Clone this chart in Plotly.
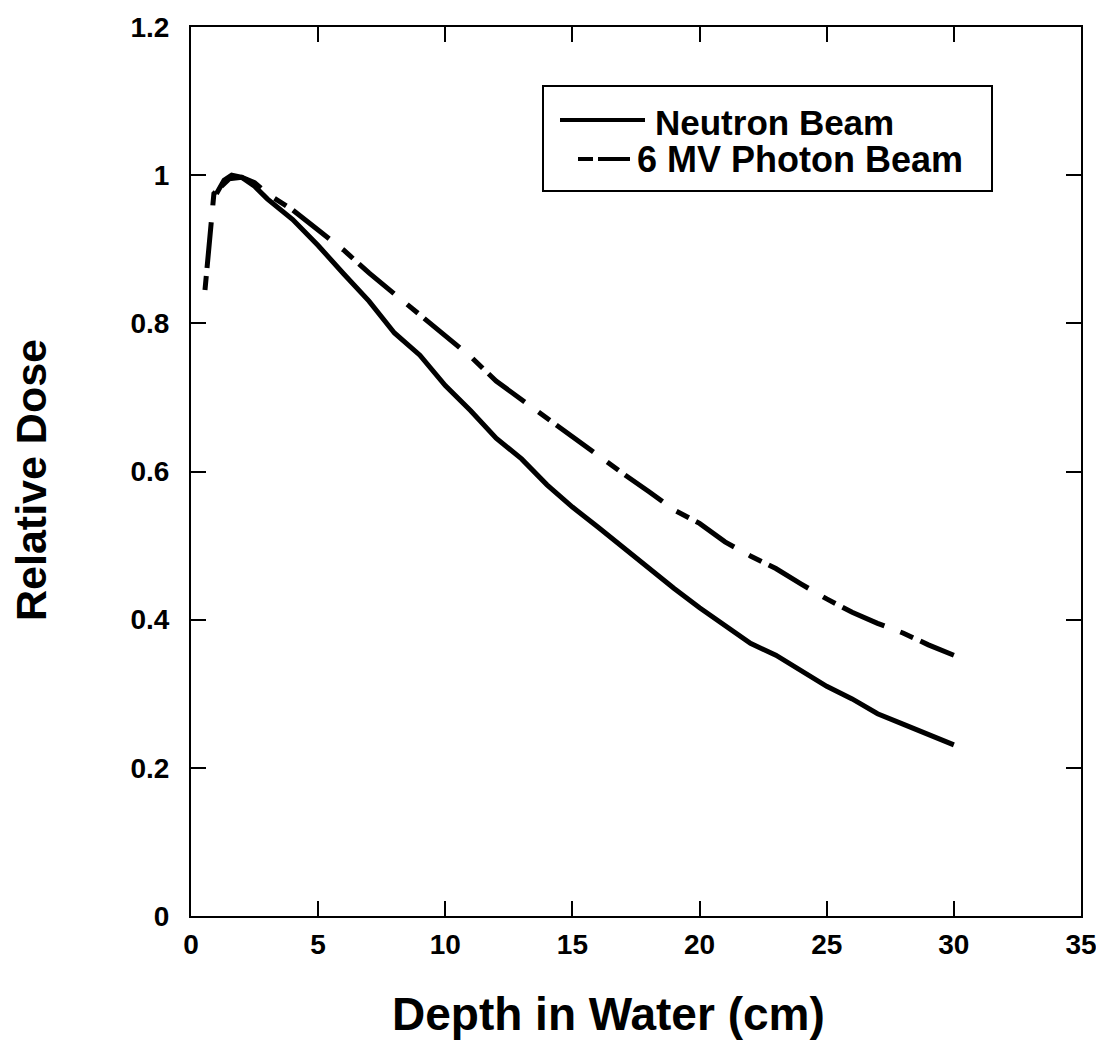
import plotly.graph_objects as go

# ---- data ----
neutron_depth = [1.0, 1.3, 1.6, 2.0, 2.5, 3, 4, 5, 6, 7, 8, 9, 10, 11, 12, 13, 14, 15,
                 16, 17, 18, 19, 20, 21, 22, 23, 24, 25, 26, 27, 28, 29, 30]
neutron_dose = [0.975, 0.993, 1.0, 0.997, 0.985, 0.968, 0.94, 0.905, 0.867, 0.83, 0.787,
                0.757, 0.716, 0.682, 0.645, 0.617, 0.582, 0.552, 0.525, 0.497, 0.469,
                0.442, 0.416, 0.393, 0.368, 0.352, 0.33, 0.31, 0.293, 0.273, 0.259,
                0.245, 0.231]

photon_depth = [0.55, 0.9, 1.2, 1.5, 2.0, 2.5, 3, 3.5, 4, 5, 6, 7, 8, 9, 10, 11, 12, 13,
                14, 15, 16, 17, 18, 19, 20, 21, 22, 23, 24, 25, 26, 27, 28, 29, 30]
photon_dose = [0.845, 0.975, 0.985, 0.995, 0.997, 0.99, 0.975, 0.964, 0.953, 0.926,
               0.899, 0.868, 0.84, 0.813, 0.785, 0.755, 0.722, 0.697, 0.672, 0.645,
               0.622, 0.597, 0.573, 0.548, 0.53, 0.505, 0.486, 0.469, 0.448, 0.428,
               0.41, 0.395, 0.382, 0.366, 0.352]

x_ticks = [0, 5, 10, 15, 20, 25, 30, 35]
y_ticks = [0, 0.2, 0.4, 0.6, 0.8, 1.0, 1.2]
y_tick_labels = ["0", "0.2", "0.4", "0.6", "0.8", "1", "1.2"]

series_names = ["Neutron Beam", "6 MV Photon Beam"]

FONT = "Arial, 'Liberation Sans', Helvetica, sans-serif"
PHOTON_DASH = "14px,8px,46px,17px"

fig = go.Figure()
fig.add_trace(go.Scatter(x=neutron_depth, y=neutron_dose, mode="lines",
                         name=series_names[0],
                         line=dict(color="black", width=5)))
fig.add_trace(go.Scatter(x=photon_depth, y=photon_dose, mode="lines",
                         name=series_names[1],
                         line=dict(color="black", width=5, dash=PHOTON_DASH)))

OFF = 8  # page body margin
W, H = 1096, 1035
L, T = 191 - OFF, 27 - OFF
R = W - (1081 - OFF)
B = H - (916 - OFF)
pw, ph = W - L - R, H - T - B


def px(xp):
    return (xp - OFF - L) / pw


def py(yp):
    return (H - B - (yp - OFF)) / ph


axis_common = dict(showline=True, linecolor="black", linewidth=2, mirror="ticks",
                   ticks="inside", ticklen=15, tickwidth=2, tickcolor="black",
                   showgrid=False, zeroline=False, automargin=False,
                   tickfont=dict(family=FONT, size=28, color="black", weight="bold"))

fig.update_xaxes(range=[0, 35], tickvals=x_ticks, ticktext=[str(v) for v in x_ticks],
                 ticklabelstandoff=2, **axis_common)
fig.update_yaxes(range=[0, 1.2], tickvals=y_ticks, ticktext=y_tick_labels,
                 ticklabelstandoff=14, **axis_common)

# manual legend
shapes = [
    dict(type="rect", xref="paper", yref="paper", x0=px(543), x1=px(992), y0=py(191), y1=py(86),
         line=dict(color="black", width=2), fillcolor="white", layer="above"),
    dict(type="line", xref="paper", yref="paper", x0=px(560), x1=px(645), y0=py(120), y1=py(120),
         line=dict(color="black", width=4)),
    dict(type="line", xref="paper", yref="paper", x0=px(578), x1=px(630), y0=py(159), y1=py(159),
         line=dict(color="black", width=4, dash="15px,5px,40px,5px")),
]

annotations = [
    dict(text=series_names[0], xref="paper", yref="paper", x=px(653), y=py(122),
         xanchor="left", yanchor="middle", showarrow=False,
         font=dict(family=FONT, size=35, color="black", weight="bold")),
    dict(text=series_names[1], xref="paper", yref="paper", x=px(635), y=py(160),
         xanchor="left", yanchor="middle", showarrow=False,
         font=dict(family=FONT, size=36, color="black", weight="bold")),
    dict(text="Depth in Water (cm)", xref="paper", yref="paper", x=px(608), y=py(1014),
         xanchor="center", yanchor="middle", showarrow=False,
         font=dict(family=FONT, size=46, color="black", weight="bold")),
    dict(text="Relative Dose", xref="paper", yref="paper", x=px(31), y=py(480),
         xanchor="center", yanchor="middle", showarrow=False, textangle=-90,
         font=dict(family=FONT, size=43, color="black", weight="bold")),
]

fig.update_layout(
    width=W, height=H,
    margin=dict(l=L, r=R, t=T, b=B),
    paper_bgcolor="white", plot_bgcolor="white",
    showlegend=False,
    shapes=shapes, annotations=annotations,
    font=dict(family=FONT, color="black"),
)

fig.write_html("out.html")
